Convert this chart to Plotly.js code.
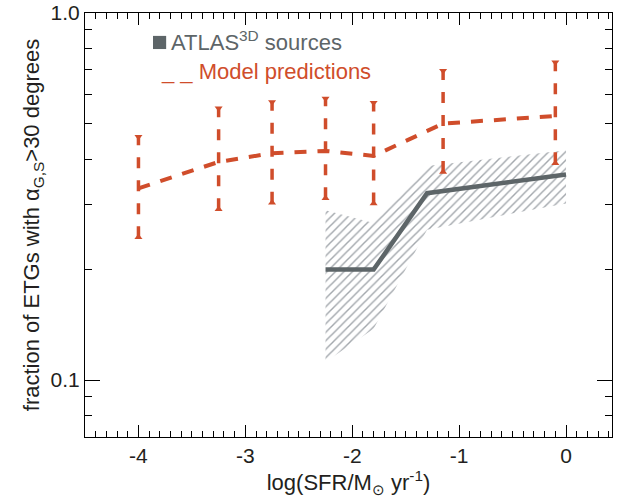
<!DOCTYPE html>
<html>
<head>
<meta charset="utf-8">
<script src="https://cdn.plot.ly/plotly-3.0.1.min.js"></script>
<style>html,body{margin:0;padding:0;background:#fff;}#chart{width:630px;height:500px;}</style>
</head>
<body>
<div id="chart"></div>
<script>
// ---- data ----
var modelX = [-4.0, -3.25, -2.75, -2.25, -1.8, -1.15, -0.1];
var modelY = [0.333, 0.393, 0.415, 0.421, 0.408, 0.500, 0.524];
var modelHi = [0.460, 0.550, 0.572, 0.585, 0.570, 0.696, 0.734];
var modelLo = [0.245, 0.292, 0.304, 0.313, 0.303, 0.369, 0.390];

var atlasX = [-2.25, -1.8, -1.3, 0.0];
var atlasY = [0.200, 0.200, 0.323, 0.363];
var atlasUpper = [0.290, 0.268, 0.383, 0.423];
var atlasLower = [0.112, 0.138, 0.257, 0.303];

var xTickVals = [-4, -3, -2, -1, 0];
var xTickText = ['-4', '-3', '-2', '-1', '0'];
var yTickVals = [0.1, 1.0];
var yTickText = ['0.1', '1.0'];
var yMinorVals = [0.08, 0.09, 0.2, 0.3, 0.4, 0.5, 0.6, 0.7, 0.8, 0.9];

// ---- styles ----
var RED = '#d04d2b';
var GREY = '#5d6568';
var HATCH = '#a3a8ad';
var FONT = 'Liberation Sans, Arial, Helvetica, sans-serif';
var INK = '#231f20';

var traces = [];

// hatched uncertainty region of ATLAS3D
var polyX = atlasX.concat(atlasX.slice().reverse());
var polyY = atlasUpper.concat(atlasLower.slice().reverse());
polyX.push(atlasX[0]); polyY.push(atlasUpper[0]);
traces.push({
  x: polyX, y: polyY, type: 'scatter', mode: 'lines',
  line: {width: 0, color: 'rgba(0,0,0,0)'},
  fill: 'toself', fillcolor: 'rgba(0,0,0,0)',
  fillpattern: {shape: '/', fgcolor: HATCH, bgcolor: 'rgba(255,255,255,0)', size: 6, solidity: 0.24, fillmode: 'replace'},
  hoverinfo: 'skip', showlegend: false
});

// ATLAS3D line
traces.push({
  x: atlasX, y: atlasY, type: 'scatter', mode: 'lines',
  line: {color: GREY, width: 4.5}, showlegend: false
});

// model error bars (dashed)
for (var i = 0; i < modelX.length; i++) {
  traces.push({
    x: [modelX[i], modelX[i]], y: [modelLo[i], modelHi[i]],
    type: 'scatter', mode: 'lines',
    line: {color: RED, width: 3.5, dash: '11px,12px'},
    showlegend: false, hoverinfo: 'skip'
  });
}
// caps
traces.push({
  x: modelX, y: modelHi, type: 'scatter', mode: 'markers',
  marker: {symbol: 'triangle-down', size: 7, color: RED},
  showlegend: false, hoverinfo: 'skip'
});
traces.push({
  x: modelX, y: modelLo, type: 'scatter', mode: 'markers',
  marker: {symbol: 'triangle-up', size: 7, color: RED},
  showlegend: false, hoverinfo: 'skip'
});
// model line
traces.push({
  x: modelX, y: modelY, type: 'scatter', mode: 'lines',
  line: {color: RED, width: 4, dash: '12px,11px'}, showlegend: false
});

var axisCommon = {
  showline: true, linecolor: '#000', linewidth: 1, mirror: 'ticks',
  ticks: 'inside', tickcolor: '#000', tickwidth: 1,
  showgrid: false, zeroline: false,
  tickfont: {family: FONT, size: 21, color: INK}
};

var layout = {
  width: 630, height: 500,
  margin: {l: 85, r: 18, t: 13, b: 63},
  paper_bgcolor: '#fff', plot_bgcolor: '#fff',
  showlegend: false,
  font: {family: FONT, color: INK},
  xaxis: Object.assign({}, axisCommon, {
    range: [-4.5, 0.43],
    tickmode: 'array', tickvals: xTickVals, ticktext: xTickText, ticklen: 12,
    minor: {dtick: 0.1, tick0: 0, ticks: 'inside', ticklen: 6, tickcolor: '#000', tickwidth: 1, showgrid: false},
    title: {text: 'log(SFR/M<sub>\u2299</sub> yr<sup>-1</sup>)', font: {family: FONT, size: 22, color: INK}, standoff: 2}
  }),
  xaxis2: {
    overlaying: 'x', side: 'top', matches: 'x', range: [-4.5, 0.43],
    showline: false, showgrid: false, zeroline: false, showticklabels: false,
    ticks: 'inside', tickmode: 'array', tickvals: xTickVals, ticklen: 12, tickcolor: '#000', tickwidth: 1,
    minor: {dtick: 0.1, tick0: 0, ticks: 'inside', ticklen: 6, tickcolor: '#000', tickwidth: 1, showgrid: false}
  },
  yaxis: Object.assign({}, axisCommon, {
    type: 'log', range: [Math.log10(0.07), 0],
    tickmode: 'array', tickvals: yTickVals, ticktext: yTickText, ticklen: 15,
    minor: {tickmode: 'array', tickvals: yMinorVals, ticks: 'inside', ticklen: 7, tickcolor: '#000', tickwidth: 1, showgrid: false},
    title: {text: 'fraction of ETGs with \u03b1<sub>G,S</sub>&gt;30 degrees', font: {family: FONT, size: 22, color: INK}, standoff: 4}
  }),
  shapes: [
    {type: 'rect', xref: 'paper', yref: 'paper', x0: 0.129, x1: 0.154, y0: 0.915, y1: 0.946, fillcolor: GREY, line: {width: 0}}
  ],
  annotations: [
    {xref: 'paper', yref: 'paper', x: 0.160, y: 0.934, xanchor: 'left', yanchor: 'middle', showarrow: false,
     text: 'ATLAS<sup>3D</sup> sources', font: {family: FONT, size: 22, color: GREY}},
    {xref: 'paper', yref: 'paper', x: 0.140, y: 0.862, xanchor: 'left', yanchor: 'middle', showarrow: false,
     text: '_ _ Model predictions', font: {family: FONT, size: 22, color: RED}}
  ]
};

// invisible trace to activate the top mirror axis
traces.push({x: [modelX[0]], y: [modelY[0]], xaxis: 'x2', yaxis: 'y', type: 'scatter', mode: 'markers',
  marker: {opacity: 0}, showlegend: false, hoverinfo: 'skip'});

Plotly.newPlot('chart', traces, layout, {staticPlot: true, displayModeBar: false});
</script>
</body>
</html>
